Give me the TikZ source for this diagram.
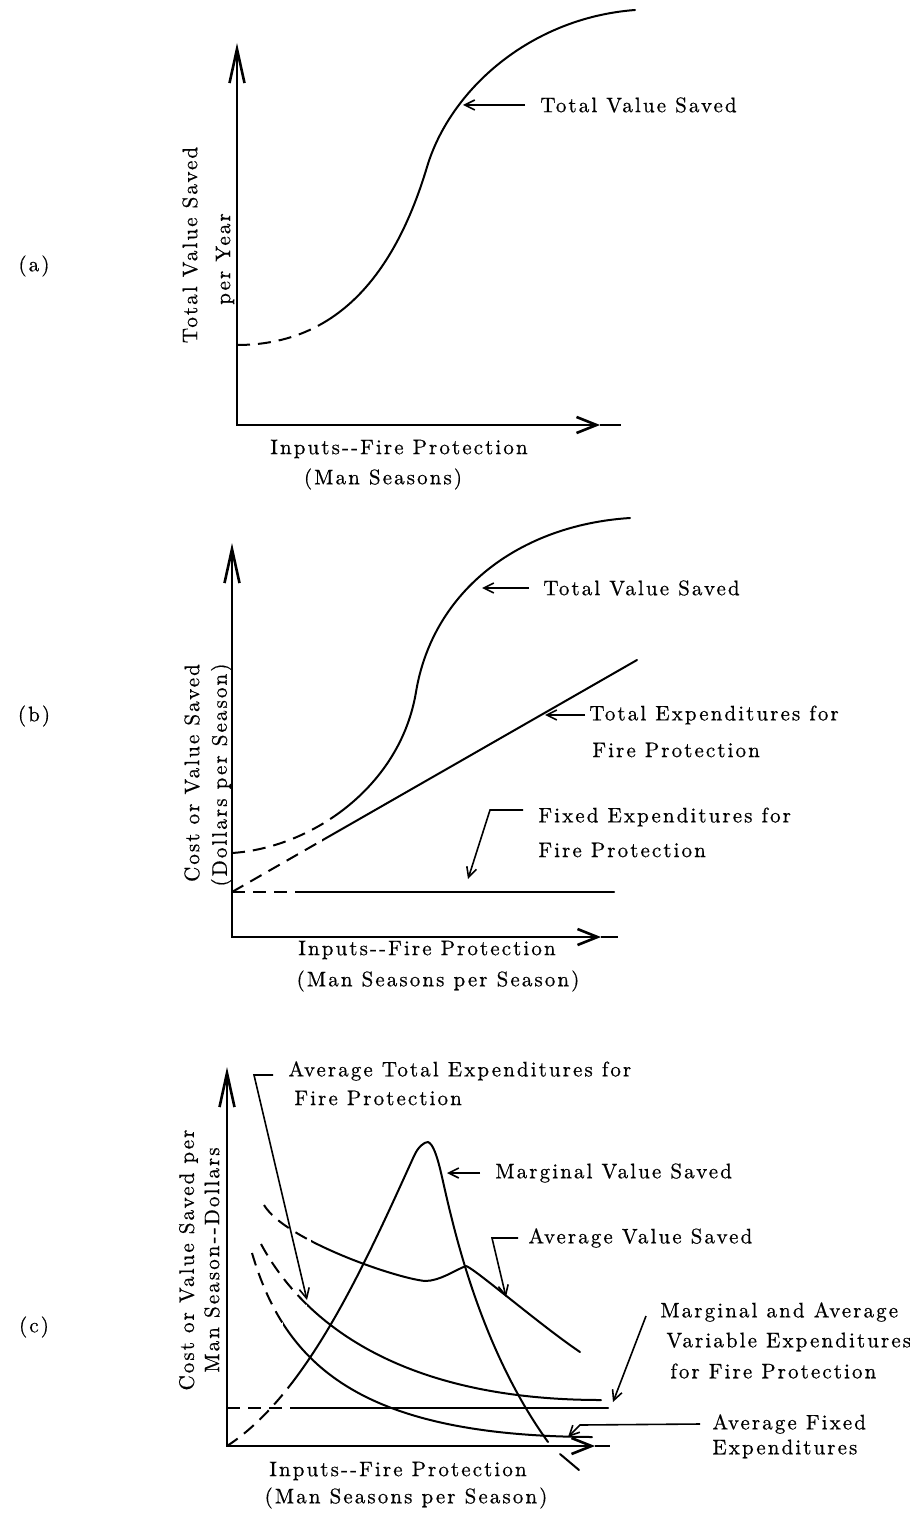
\documentclass[tikz,border=0pt]{standalone}
\usepackage{fontspec}
\setmainfont{lmroman10-regular.otf}[LetterSpace=10, FakeBold=0.6]
\usetikzlibrary{arrows.meta}

\newcommand\lblfont{\fontsize{10.5pt}{12pt}\selectfont}

\tikzset{
  axisline/.style={line width=1.3pt},
  axisarr/.style={{Straight Barb[length=17pt,width=7.5pt]}-{Straight Barb[length=10pt,width=8pt]}},
  crv/.style={line width=1pt, line join=round, line cap=round},
  dsh/.style={line width=1pt, line join=round, dash pattern=on 6.5pt off 4pt},
  lead/.style={line width=0.8pt},
  ltip/.style={-{Straight Barb[length=5pt,width=5pt]}},
  lab/.style={font=\lblfont, inner sep=0pt},
  ylab/.style={lab, rotate=90},
}

% curve data (1 unit = 0.5pt, y grows downwards)
\def\curveA{(237,345) .. controls (330,345) and (392,284) .. (427,167) .. controls (450,90) and (530,18) .. (635,10)}
\def\curveB{(232,853) .. controls (310,848) and (400,788) .. (416,692) .. controls (433,590) and (520,525) .. (630,518)}
\def\lineTE{(232,892) -- (637,660)}
\def\lineFE{(232,892) -- (614,892)}
\def\lineMAV{(227,1408) -- (608,1408)}
\def\curveATE{(261,1244) .. controls (303,1322) and (400,1400) .. (601,1400)}
\def\curveAFE{(252,1253) .. controls (285,1365) and (360,1436) .. (592,1437)}
\def\curveMVS{(227,1446) .. controls (307,1394) and (364,1266) .. (414,1156) .. controls (418,1147) and (424,1142) .. (428,1142) .. controls (433,1144) and (437,1155) .. (442,1177) .. controls (452,1221) and (478,1345) .. (548,1442)}
\def\curveAVS{(264,1205) .. controls (285,1240) and (395,1278) .. (425,1281) .. controls (440,1281) and (455,1270) .. (466,1266) .. controls (474,1268) and (540,1325) .. (580,1352)}

\begin{document}
\begin{tikzpicture}[x=0.5pt,y=-0.5pt]
\useasboundingbox (0,0) rectangle (909,1513);
\fill[white] (0,0) rectangle (909,1513);

% ================= (a) =================
\coordinate (Ao) at (237,425);
\coordinate (Ay) at (237,43);
\coordinate (Axt) at (600,425);
\coordinate (Axe) at (621,425);
\draw[axisline, axisarr] (Ay) -- (Ao) -- (Axt);
\draw[axisline] (Axt) -- (Axe);

\begin{scope}
  \clip (0,0) rectangle (327,500);
  \draw[dsh] \curveA;
\end{scope}
\begin{scope}
  \clip (327,0) rectangle (909,500);
  \draw[crv] \curveA;
\end{scope}

\node[lab, anchor=west] (tvsA) at (540,105) {Total Value Saved};
\coordinate (tvsAp) at (463,105);
\draw[lead, ltip] ([xshift=-7.5pt]tvsA.west) -- (tvsAp);

\node[ylab] (yA1) at (190,245) {Total Value Saved};
\node[ylab] (yA2) at (225,259) {per Year};
\node[lab] (tagA) at (34,266) {(a)};
\node[lab] (xA1) at (399,449) {Inputs-{}-Fire Protection};
\node[lab] (xA2) at (383,479) {(Man Seasons)};

% ================= (b) =================
\coordinate (Bo) at (232,937);
\coordinate (By) at (232,543);
\coordinate (Bxt) at (601,937);
\coordinate (Bxe) at (618,937);
\draw[axisline, axisarr] (By) -- (Bo) -- (Bxt);
\draw[axisline] (Bxt) -- (Bxe);

\begin{scope}
  \clip (0,500) rectangle (305,1000);
  \draw[dsh] \lineFE;
\end{scope}
\begin{scope}
  \clip (305,500) rectangle (909,1000);
  \draw[crv] \lineFE;
\end{scope}
\begin{scope}
  \clip (0,500) rectangle (322,1000);
  \draw[dsh] \lineTE;
\end{scope}
\begin{scope}
  \clip (322,500) rectangle (909,1000);
  \draw[crv] \lineTE;
\end{scope}
\begin{scope}
  \clip (0,500) rectangle (340,1000);
  \draw[dsh] \curveB;
\end{scope}
\begin{scope}
  \clip (340,500) rectangle (909,1000);
  \draw[crv] \curveB;
\end{scope}

\node[lab, anchor=west] (tvsB) at (543,588) {Total Value Saved};
\coordinate (tvsBp) at (482,588);
\draw[lead, ltip] ([xshift=-7pt]tvsB.west) -- (tvsBp);

\node[lab, anchor=west] (teB1) at (589,715) {Total Expenditures for};
\node[lab, anchor=west] (teB2) at (592,750) {Fire Protection};
\coordinate (teBp) at (545,715);
\draw[lead, ltip] ([xshift=-2pt]teB1.west) -- (teBp);

\node[lab, anchor=west] (feB1) at (538,817) {Fixed Expenditures for};
\node[lab, anchor=west] (feB2) at (538,850) {Fire Protection};
\coordinate (feBk) at (490,810);
\coordinate (feBp) at (468,879);
\draw[lead, ltip] ([xshift=-7.5pt,yshift=3.5pt]feB1.west) -- (feBk) -- (feBp);

\node[ylab] (yB1) at (192,773) {Cost or Value Saved};
\node[ylab] (yB2) at (221.5,775) {(Dollars per Season)};
\node[lab] (tagB) at (34,716) {(b)};
\node[lab] (xB1) at (427,950) {Inputs-{}-Fire Protection};
\node[lab] (xB2) at (438,981) {(Man Seasons per Season)};

% ================= (c) =================
\coordinate (Co) at (227,1446);
\coordinate (Cy) at (227,1067);
\coordinate (Cxt) at (595,1446);
\coordinate (Cxe) at (610,1446);
\draw[axisline, axisarr] (Cy) -- (Co) -- (Cxt);
\draw[axisline] (Cxt) -- (Cxe);

\begin{scope}
  \clip (0,1040) rectangle (290,1513);
  \draw[dsh] \lineMAV;
\end{scope}
\begin{scope}
  \clip (290,1040) rectangle (909,1513);
  \draw[crv] \lineMAV;
\end{scope}
\begin{scope}
  \clip (0,1040) rectangle (307,1513);
  \draw[dsh] \curveATE;
\end{scope}
\begin{scope}
  \clip (307,1040) rectangle (909,1513);
  \draw[crv] \curveATE;
\end{scope}
\begin{scope}
  \clip (0,1040) rectangle (283,1513);
  \draw[dsh] \curveAFE;
\end{scope}
\begin{scope}
  \clip (283,1040) rectangle (909,1513);
  \draw[crv] \curveAFE;
\end{scope}
\begin{scope}
  \clip (0,1040) rectangle (293,1513);
  \draw[dsh] \curveMVS;
\end{scope}
\begin{scope}
  \clip (293,1040) rectangle (909,1513);
  \draw[crv] \curveMVS;
\end{scope}
\draw[crv] (560,1454) -- (579,1470);
\begin{scope}
  \clip (0,1040) rectangle (311,1513);
  \draw[dsh] \curveAVS;
\end{scope}
\begin{scope}
  \clip (311,1040) rectangle (909,1513);
  \draw[crv] \curveAVS;
\end{scope}

\node[lab, anchor=west] (ateC1) at (288,1071) {Average Total Expenditures for};
\node[lab, anchor=west] (ateC2) at (294,1098) {Fire Protection};
\coordinate (ateCk) at (254,1075);
\coordinate (ateCp) at (307,1300);
\draw[lead, ltip] ([xshift=-7.5pt,yshift=-2pt]ateC1.west) -- (ateCk) -- (ateCp);

\node[lab, anchor=west] (mvsC) at (495,1173) {Marginal Value Saved};
\coordinate (mvsCp) at (447,1173);
\draw[lead, ltip] ([xshift=-7.5pt]mvsC.west) -- (mvsCp);

\node[lab, anchor=west] (avsC) at (528,1238) {Average Value Saved};
\coordinate (avsCk) at (492,1238);
\coordinate (avsCp) at (506,1297);
\draw[lead, ltip] ([xshift=-5pt]avsC.west) -- (avsCk) -- (avsCp);

\node[lab, anchor=west] (mavC1) at (660,1312) {Marginal and Average};
\node[lab, anchor=west] (mavC2) at (666,1342) {Variable Expenditures};
\node[lab, anchor=west] (mavC3) at (670,1371) {for Fire Protection};
\coordinate (mavCp) at (613,1402);
\draw[lead, ltip] ([xshift=-7pt,yshift=-2pt]mavC1.west) -- (mavCp);

\node[lab, anchor=west] (afeC1) at (712,1424) {Average Fixed};
\node[lab, anchor=west] (afeC2) at (712,1449) {Expenditures};
\coordinate (afeCk) at (580,1425);
\coordinate (afeCp) at (568,1437);
\draw[lead, ltip] ([xshift=-6pt]afeC1.west) -- (afeCk) -- (afeCp);

\node[ylab] (yC1) at (188.5,1260) {Cost or Value Saved per};
\node[ylab] (yC2) at (212,1260) {Man Season-{}-Dollars};
\node[lab] (tagC) at (34,1327) {(c)};
\node[lab] (xC1) at (398,1471) {Inputs-{}-Fire Protection};
\node[lab] (xC2) at (406,1498) {(Man Seasons per Season)};
\end{tikzpicture}
\end{document}
